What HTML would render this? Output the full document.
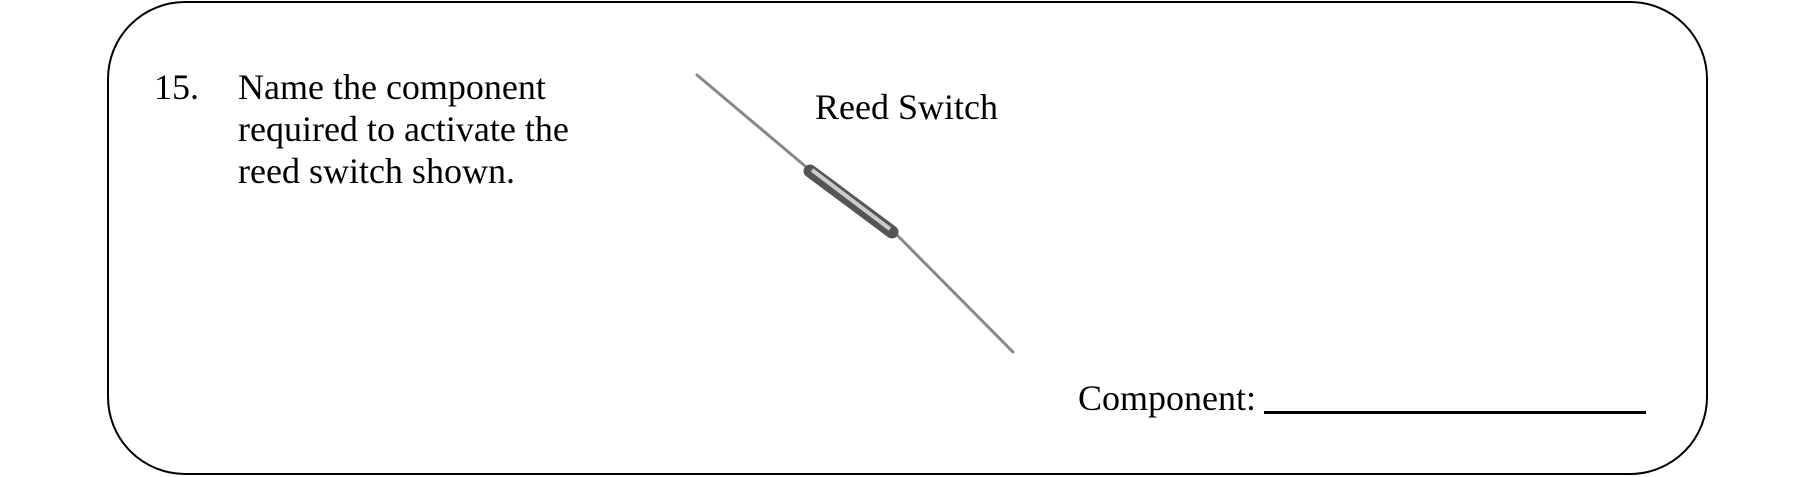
<!DOCTYPE html>
<html><head><style>
body{margin:0;width:1818px;height:477px;background:#fff;overflow:hidden;position:relative;font-family:"Liberation Serif",serif;color:#000}
.t{position:absolute;font-size:36px;line-height:42px;white-space:nowrap}
</style></head><body>
<div style="position:absolute;left:107px;top:1px;width:1597px;height:470px;border:2px solid #000;border-radius:78px"></div>
<div class="t" style="left:154px;top:66px">15.</div>
<div class="t" style="left:238px;top:66px">Name the component<br>required to activate the<br>reed switch shown.</div>
<div class="t" style="left:815px;top:86px;font-size:36px">Reed Switch</div>
<svg style="position:absolute;left:0;top:0" width="1818" height="477">
<path d="M697 75 L805 166 M898 236 L1013 352" stroke="#888" stroke-width="3" stroke-linecap="round" fill="none"/>
<line x1="810" y1="171" x2="892" y2="232" stroke="#555" stroke-width="13" stroke-linecap="round"/>
<line x1="812" y1="170" x2="890" y2="229" stroke="#ccc" stroke-width="4"/>
</svg>
<div class="t" style="left:1078px;top:377px">Component:</div>
<div style="position:absolute;left:1264px;top:411px;width:382px;height:3px;background:#000"></div>
</body></html>
